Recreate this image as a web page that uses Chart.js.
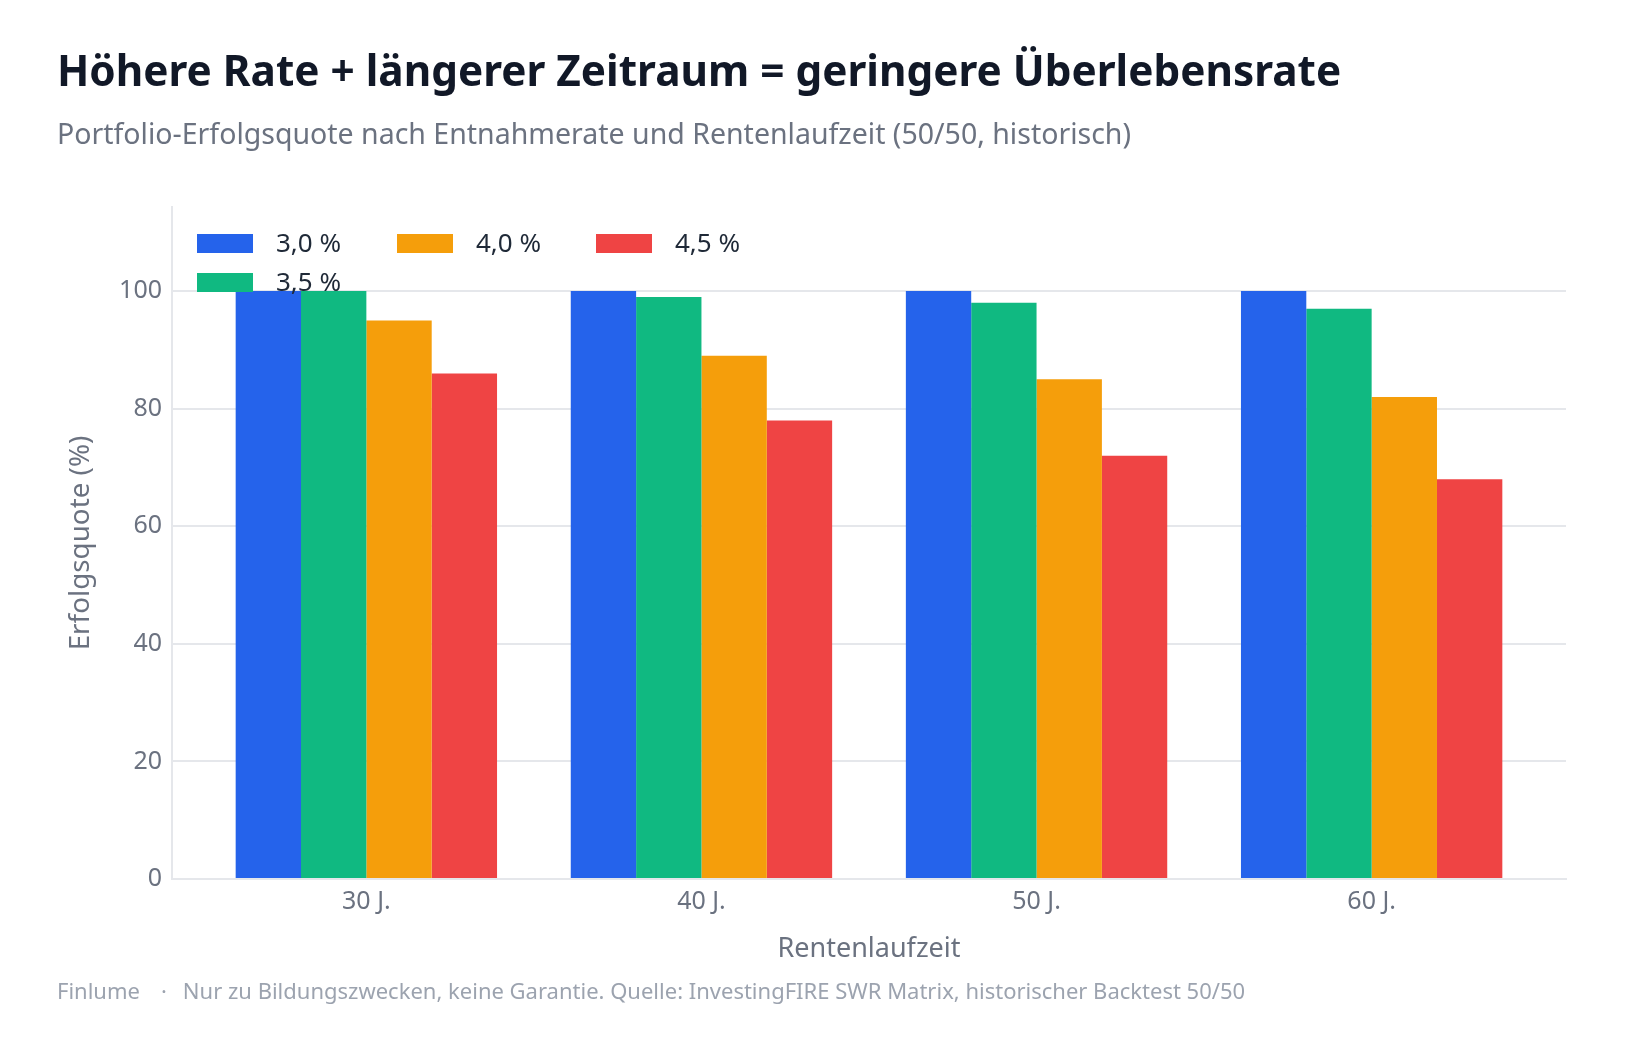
<!DOCTYPE html>
<html lang="de">
<head>
<meta charset="utf-8">
<title>Höhere Rate + längerer Zeitraum = geringere Überlebensrate</title>
<script src="https://cdn.jsdelivr.net/npm/chart.js@4.4.1/dist/chart.umd.min.js"></script>
<style>
  html, body { margin: 0; padding: 0; background: #ffffff; }
  #page { position: relative; width: 1639px; height: 1040px; overflow: hidden; font-family: "Noto Sans", "Open Sans", sans-serif; }
  #chart { position: absolute; left: 0; top: 0; }
  .txt { position: absolute; white-space: nowrap; line-height: 1; }
  #title { left: 57px; top: 49px; font-size: 42.3px; font-weight: 700; color: #111827; }
  #subtitle { left: 57px; top: 118.5px; font-size: 28.5px; color: #6b7280; }
  #footer { left: 57px; top: 979px; font-size: 22px; color: #9ca3af; }
  #footer .dot { margin: 0 16px 0 21px; }
  .leg { position: absolute; height: 19px; }
  .leg .sw { position: absolute; left: 0; top: 0; width: 56px; height: 19px; }
  .leg .lab { position: absolute; left: 79px; top: -5px; font-size: 26px; line-height: 1; color: #1f2937; white-space: nowrap; }
</style>
</head>
<body>
<div id="page">
  <canvas id="chart" width="1639" height="1040"></canvas>
  <div id="title" class="txt">Höhere Rate + längerer Zeitraum = geringere Überlebensrate</div>
  <div id="subtitle" class="txt">Portfolio-Erfolgsquote nach Entnahmerate und Rentenlaufzeit (50/50, historisch)</div>
  <div id="legend"></div>
  <div id="footer" class="txt"><span>Finlume</span><span class="dot">·</span><span>Nur zu Bildungszwecken, keine Garantie. Quelle: InvestingFIRE SWR Matrix, historischer Backtest 50/50</span></div>
</div>
<script>
// ---- data ----
const categories = ["30 J.", "40 J.", "50 J.", "60 J."];
const seriesLabels = ["3,0 %", "3,5 %", "4,0 %", "4,5 %"];
const rate30 = [100, 100, 100, 100];
const rate35 = [100, 99, 98, 97];
const rate40 = [95, 89, 85, 82];
const rate45 = [86, 78, 72, 68];
const yTicks = [0, 20, 40, 60, 80, 100];
const xAxisTitle = "Rentenlaufzeit";
const yAxisTitle = "Erfolgsquote (%)";

// ---- styles ----
const colors = ["#2563eb", "#10b981", "#f59e0b", "#ef4444"];
const seriesValues = [rate30, rate35, rate40, rate45];
const FONT = "'Noto Sans', 'Open Sans', sans-serif";
const gridColor = "#e5e7eb";
const tickColor = "#6b7280";

const datasets = seriesValues.map((vals, s) => ({
  label: seriesLabels[s],
  data: vals.map((v, i) => ({ x: i, y: v })),
  backgroundColor: colors[s],
  borderWidth: 0,
  categoryPercentage: 0.78,
  barPercentage: 1.0
}));

new Chart(document.getElementById("chart"), {
  type: "bar",
  data: { datasets },
  options: {
    responsive: false,
    animation: false,
    events: [],
    layout: { padding: { top: 207, left: 0, right: 73, bottom: 61 } },
    plugins: { legend: { display: false }, tooltip: { enabled: false }, title: { display: false } },
    scales: {
      x: {
        type: "linear",
        min: -0.58,
        max: 3.58,
        offset: false,
        grid: { display: false, drawTicks: false },
        border: { display: true, color: gridColor, width: 2 },
        afterBuildTicks: (scale) => { scale.ticks = categories.map((_, i) => ({ value: i })); },
        afterFit: (scale) => { scale.height = 100; },
        ticks: {
          padding: 8,
          color: tickColor,
          font: { family: FONT, size: 25 },
          callback: (v) => categories[v] ?? ""
        },
        title: {
          display: true,
          text: xAxisTitle,
          color: tickColor,
          font: { family: FONT, size: 27 },
          padding: { top: 0, bottom: 13 }
        }
      },
      y: {
        type: "linear",
        min: 0,
        max: 114.3,
        grid: { color: gridColor, lineWidth: 2, drawTicks: false },
        border: { display: true, color: gridColor, width: 2 },
        afterBuildTicks: (scale) => { scale.ticks = yTicks.map(v => ({ value: v })); },
        afterFit: (scale) => { scale.width = 172; },
        ticks: {
          padding: 10,
          color: tickColor,
          font: { family: FONT, size: 25 }
        },
        title: {
          display: true,
          text: yAxisTitle,
          color: tickColor,
          font: { family: FONT, size: 27.8 },
          padding: { top: 64, bottom: 0 }
        }
      }
    }
  }
});

// ---- HTML legend (inside plot area, top-left) ----
const legendPos = [ {left: 197, top: 234}, {left: 197, top: 273}, {left: 397, top: 234}, {left: 596, top: 234} ];
const legendEl = document.getElementById("legend");
seriesLabels.forEach((lab, s) => {
  const item = document.createElement("div");
  item.className = "leg";
  item.style.left = legendPos[s].left + "px";
  item.style.top = legendPos[s].top + "px";
  const sw = document.createElement("div");
  sw.className = "sw";
  sw.style.background = colors[s];
  const t = document.createElement("div");
  t.className = "lab";
  t.textContent = lab;
  item.appendChild(sw);
  item.appendChild(t);
  legendEl.appendChild(item);
});
</script>
</body>
</html>
